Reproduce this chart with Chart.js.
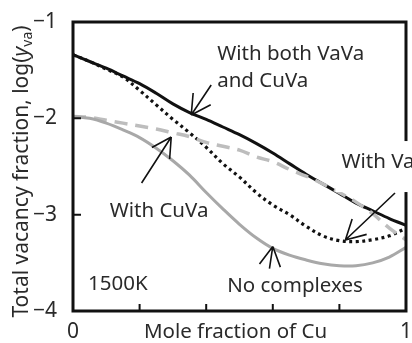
<!DOCTYPE html>
<html>
<head>
<meta charset="utf-8">
<script src="https://cdn.jsdelivr.net/npm/chart.js@4/dist/chart.umd.min.js"></script>
<style>
  html, body { margin: 0; padding: 0; background: #fff; }
  #chart { display: block; }
</style>
</head>
<body>
<canvas id="chart" width="412" height="343"></canvas>
<script>
// mole fraction of Cu
const moleFraction = [0, 0.05, 0.1, 0.15, 0.2, 0.25, 0.3, 0.35, 0.4, 0.45, 0.5,
                      0.55, 0.6, 0.65, 0.7, 0.75, 0.8, 0.85, 0.9, 0.95, 1];
// log(y_va) for each model
const withBoth    = [-1.34, -1.41, -1.48, -1.56, -1.64, -1.74, -1.85, -1.94, -2.01, -2.09, -2.17,
                     -2.26, -2.36, -2.47, -2.58, -2.68, -2.78, -2.88, -2.96, -3.04, -3.11];
const withVaVa    = [-1.34, -1.41, -1.49, -1.57, -1.71, -1.86, -2.01, -2.15, -2.30, -2.47, -2.61,
                     -2.77, -2.90, -3.00, -3.12, -3.22, -3.27, -3.28, -3.26, -3.22, -3.14];
const withCuVa    = [-1.98, -1.99, -2.02, -2.05, -2.08, -2.11, -2.15, -2.19, -2.25, -2.29, -2.33,
                     -2.40, -2.45, -2.53, -2.60, -2.68, -2.77, -2.87, -2.99, -3.14, -3.26];
const noComplexes = [-1.98, -2.00, -2.05, -2.12, -2.20, -2.31, -2.44, -2.59, -2.77, -2.94, -3.10,
                     -3.24, -3.35, -3.42, -3.47, -3.51, -3.53, -3.53, -3.50, -3.44, -3.34];
const xTickLabels = ['0', '1'];
const yTickLabels = ['\u22121', '\u22122', '\u22123', '\u22124'];

const FONT = '"Noto Sans", sans-serif';
const TEXT = '#2a2a2a';

// labels and arrows, in data units
const notes = [
  { text: 'With both VaVa', x: 0.433, y: -1.395 },
  { text: 'and CuVa',       x: 0.433, y: -1.675 },
  { text: 'With VaVa',      x: 0.806, y: -2.516, box: true },
  { text: 'With CuVa',      x: 0.110, y: -3.024 },
  { text: '1500K',          x: 0.045, y: -3.782 },
  { text: 'No complexes',   x: 0.463, y: -3.803 }
];
const arrows = [
  { from: [0.415, -1.654], to: [0.355, -1.965] },
  { from: [0.206, -2.671], to: [0.295, -2.194] },
  { from: [0.967, -2.775], to: [0.818, -3.263] },
  { from: [0.590, -3.560], to: [0.600, -3.330] }
];

function pts(ys) {
  return moleFraction.map((x, i) => ({ x: x, y: ys[i] }));
}

const decor = {
  id: 'decor',
  afterDatasetsDraw(chart) {
    const ctx = chart.ctx, a = chart.chartArea;
    const xs = chart.scales.x, ys = chart.scales.y;
    ctx.save();
    // frame
    ctx.strokeStyle = '#111';
    ctx.lineWidth = 3;
    ctx.strokeRect(a.left, a.top, a.right - a.left, a.bottom - a.top);
    // inner ticks
    ctx.lineWidth = 2;
    ctx.beginPath();
    xs.ticks.forEach(t => {
      if (t.value > 0.01 && t.value < 0.99) {
        const px = xs.getPixelForValue(t.value);
        ctx.moveTo(px, a.bottom);
        ctx.lineTo(px, a.bottom - 7);
      }
    });
    ys.ticks.forEach(t => {
      if (t.value > -3.99 && t.value < -1.01) {
        const py = ys.getPixelForValue(t.value);
        ctx.moveTo(a.left, py);
        ctx.lineTo(a.left + 8, py);
      }
    });
    ctx.stroke();

    // arrows
    ctx.strokeStyle = '#111';
    ctx.lineWidth = 1.6;
    arrows.forEach(ar => {
      const x0 = xs.getPixelForValue(ar.from[0]), y0 = ys.getPixelForValue(ar.from[1]);
      const x1 = xs.getPixelForValue(ar.to[0]),   y1 = ys.getPixelForValue(ar.to[1]);
      const ang = Math.atan2(y0 - y1, x0 - x1);
      ctx.beginPath();
      ctx.moveTo(x0, y0);
      ctx.lineTo(x1, y1);
      [-0.5, 0.5].forEach(d => {
        ctx.moveTo(x1, y1);
        ctx.lineTo(x1 + 22 * Math.cos(ang + d), y1 + 22 * Math.sin(ang + d));
      });
      ctx.stroke();
    });

    // text labels
    ctx.font = '20.5px ' + FONT;
    ctx.textBaseline = 'alphabetic';
    ctx.textAlign = 'left';
    notes.forEach(n => {
      const px = xs.getPixelForValue(n.x), py = ys.getPixelForValue(n.y);
      if (n.box) {
        ctx.fillStyle = '#fff';
        ctx.fillRect(px - 6, py - 27, chart.width - px + 6, 51);
      }
      ctx.fillStyle = TEXT;
      ctx.fillText(n.text, px, py);
    });

    // x title on the tick label line
    ctx.textAlign = 'center';
    ctx.fillText('Mole fraction of Cu', (a.left + a.right) / 2 - 4, a.bottom + 27);

    // y title
    ctx.translate(28, (a.top + a.bottom) / 2 + 5);
    ctx.rotate(-Math.PI / 2);
    const parts = [
      { t: 'Total vacancy fraction, log(', f: '21px ' + FONT, dy: 0 },
      { t: 'y', f: 'italic 21px ' + FONT, dy: 0 },
      { t: 'va', f: '14px ' + FONT, dy: 4 },
      { t: ')', f: '21px ' + FONT, dy: 0 }
    ];
    let w = 0;
    parts.forEach(p => { ctx.font = p.f; p.w = ctx.measureText(p.t).width; w += p.w; });
    let cx = -w / 2;
    ctx.textAlign = 'left';
    parts.forEach(p => {
      ctx.font = p.f;
      ctx.fillText(p.t, cx, p.dy);
      cx += p.w;
    });
    ctx.restore();
  }
};

const ctx = document.getElementById('chart').getContext('2d');
const myChart = new Chart(ctx, {
  type: 'line',
  data: {
    datasets: [
      {
        label: 'No complexes',
        data: pts(noComplexes),
        borderColor: '#a8a8a8',
        borderWidth: 3
      },
      {
        label: 'With CuVa',
        data: pts(withCuVa),
        borderColor: '#bdbdbd',
        borderWidth: 3.5,
        borderDash: [13, 8]
      },
      {
        label: 'With VaVa',
        data: pts(withVaVa),
        borderColor: '#111',
        borderWidth: 3.2,
        borderDash: [3, 3.5]
      },
      {
        label: 'With both VaVa and CuVa',
        data: pts(withBoth),
        borderColor: '#111',
        borderWidth: 3
      }
    ]
  },
  options: {
    responsive: false,
    animation: false,
    devicePixelRatio: 1,
    layout: { autoPadding: false, padding: { top: 22, right: 3, left: 0, bottom: 0 } },
    elements: {
      point: { radius: 0 },
      line: { tension: 0.35, fill: false }
    },
    plugins: {
      legend: { display: false },
      tooltip: { enabled: false }
    },
    scales: {
      x: {
        type: 'linear',
        min: 0,
        max: 1,
        grid: { display: false },
        border: { display: false },
        ticks: {
          stepSize: 0.2,
          autoSkip: false,
          maxRotation: 0,
          padding: 0,
          color: TEXT,
          font: { family: FONT, size: 21 },
          callback: v => Math.abs(v) < 1e-6 ? xTickLabels[0] : (Math.abs(v - 1) < 1e-6 ? xTickLabels[1] : '')
        },
        afterFit: s => { s.height = 32; }
      },
      y: {
        min: -4,
        max: -1,
        grid: { display: false },
        border: { display: false },
        ticks: {
          stepSize: 1,
          padding: 8,
          color: TEXT,
          font: { family: FONT, size: 21 },
          callback: v => yTickLabels[Math.round(-v) - 1]
        },
        afterFit: s => { s.width = 73; }
      }
    }
  },
  plugins: [decor]
});
</script>
</body>
</html>
